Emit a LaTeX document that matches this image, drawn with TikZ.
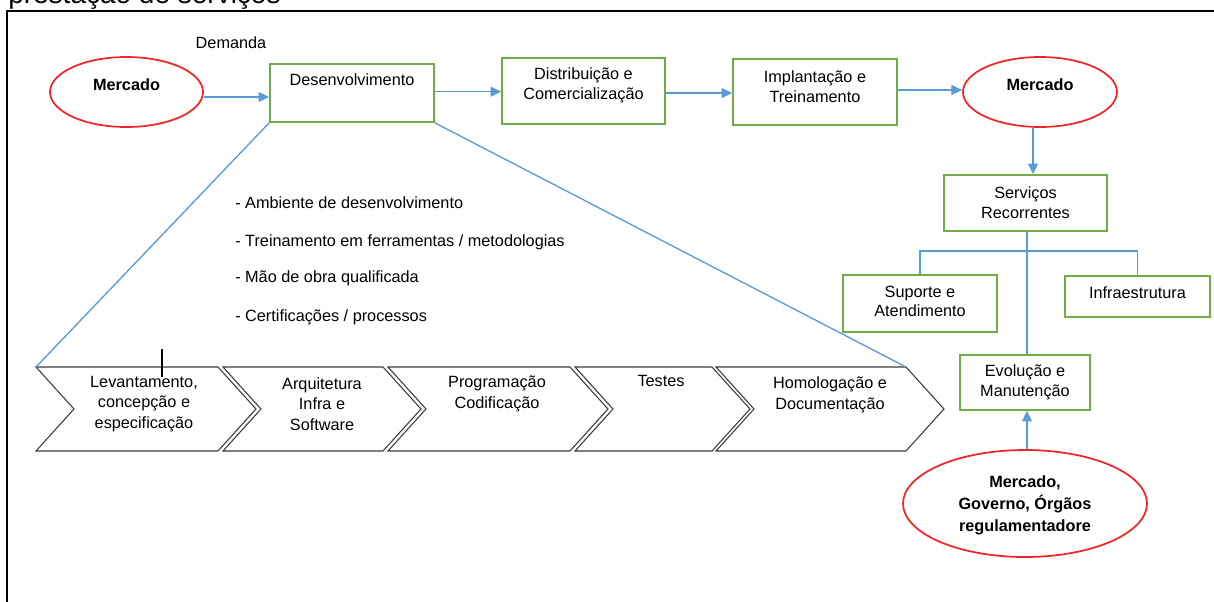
\documentclass[tikz,border=0pt]{standalone}
\usepackage{fontspec}
\setmainfont{Liberation Sans}
\usetikzlibrary{arrows.meta,shapes.geometric,calc}
\definecolor{gboxc}{RGB}{112,173,71}
\definecolor{blinec}{RGB}{91,155,213}
\definecolor{rellc}{RGB}{245,35,35}
\definecolor{chevc}{RGB}{60,60,60}
\newcommand\chevshape[3]{%
  \coordinate (#1tl) at (#2,367);
  \coordinate (#1tr) at (#3,367);
  \draw[chevline] (#1tl) -- (#1tr) -- (#3+38,409) -- (#3,451) -- (#2,451) -- (#2+38,409) -- cycle;
}
\begin{document}
\begin{tikzpicture}[x=0.75pt,y=-0.75pt,
  font=\fontsize{12.2}{14.8}\selectfont,
  sz/.style 2 args={minimum width=#1*0.75pt, minimum height=#2*0.75pt},
  gbox/.style={draw=gboxc, line width=1.2pt, rectangle, inner sep=0pt, align=center},
  rell/.style={draw=rellc, line width=1.3pt, ellipse, inner sep=0pt},
  bl/.style={draw=blinec, line width=1pt},
  arr/.style={bl, -{Triangle[length=8pt,width=7.5pt]}},
  chevline/.style={draw=chevc, line width=0.8pt},
  txt/.style={align=center, inner sep=0pt, font=\fontsize{12.2}{15.6}\selectfont},
  bul/.style={anchor=west, inner sep=0pt},
  lab/.style={align=center, inner sep=0pt},
  every label/.style={lab}
]
\useasboundingbox (0,0) rectangle (1214,601);

% title (cut off at top)
\node[anchor=base west, inner sep=0pt, font=\fontsize{21}{25}\selectfont] (title) at (8,3) {prestação de serviços};
% frame
\draw[line width=1.5pt] (7,640) -- (7,11) -- (1240,11);

% top row
\node (dem) at (231,43) {Demanda};
\node[rell, sz={153}{70}, label={[yshift=5.25pt, font=\fontsize{12.2}{14.8}\selectfont\bfseries]center:Mercado}] (m1) at (126.5,92) {};
\node[gbox, sz={164}{58}, label={[yshift=9.75pt]center:Desenvolvimento}] (des) at (352,93) {};
\node[gbox, sz={163}{66}, label={[yshift=4.1pt]center:{Distribuição e\\Comercialização}}] (dist) at (583.5,91) {};
\node[gbox, sz={164}{66}, label={[yshift=4.1pt]center:{Implantação e\\Treinamento}}] (impl) at (815,92) {};
\node[rell, sz={154}{70}, label={[yshift=5.25pt, font=\fontsize{12.2}{14.8}\selectfont\bfseries]center:Mercado}] (m2) at (1040,92) {};

% right column
\node[gbox, sz={163}{56}, label={[yshift=0.4pt]center:{Serviços\\Recorrentes}}] (serv) at (1025.5,203) {};
\node[gbox, sz={154}{57}, label={[yshift=1.5pt]center:{Suporte e\\Atendimento}}] (sup) at (920,303.5) {};
\node[gbox, sz={145}{41}, label={[yshift=2.6pt]center:Infraestrutura}] (infra) at (1137.5,296.5) {};
\node[gbox, sz={130}{55}, label={[yshift=0pt]center:{Evolução e\\Manutenção}}] (evol) at (1025,382.5) {};
\node[rell, sz={244}{107}, label={[yshift=-1pt, font=\fontsize{12.2}{16.5}\selectfont\bfseries]center:{Mercado,\\Governo, Órgãos\\regulamentadore}}] (m3) at (1025,503.5) {};

% arrows top row
\draw[arr] ([yshift=-3.75pt]m1.east) -- ([yshift=-3.75pt]m1.east -| des.west);
\draw[arr] ([yshift=1pt]des.east) -- ([yshift=1pt]des.east -| dist.west);
\draw[arr] ([yshift=-1.5pt]dist.east) -- ([yshift=-1.5pt]dist.east -| impl.west);
\draw[arr] ([yshift=1.5pt]impl.east) -- ([yshift=1.5pt]impl.east -| m2.west);
\draw[arr] ([xshift=-5.25pt]m2.south) -- ([xshift=-5.25pt]m2.south |- serv.north);

% tree
\coordinate (junc) at (1027,251);
\draw[bl] ([xshift=1pt]serv.south) -- ([xshift=1pt]serv.south |- evol.north);
\draw[bl] (sup.north) |- (junc) -| (infra.north);
\draw[arr] ([xshift=1.5pt]m3.north) -- ([xshift=1.5pt]m3.north |- evol.south);

% chevrons
\chevshape{c1}{36}{218}
\chevshape{c2}{223}{383}
\chevshape{c3}{388}{570}
\chevshape{c4}{575}{712}
\chevshape{c5}{716}{906}
\node[txt] (t1) at (144,404) {Levantamento,\\concepção e\\especificação};
\node[txt] (t2) at (322,404) {Arquitetura\\Infra e\\Software};
\node[txt] (t3) at (497,394) {Programação\\Codificação};
\node[txt] (t4) at (661,381) {Testes};
\node[txt] (t5) at (830,395) {Homologação e\\Documentação};

% tick
\coordinate (tk1) at (162,349);
\coordinate (tk2) at (162,377);
\draw[black, line width=0.8pt] (tk1) -- (tk2);

% funnel lines
\draw[bl] (des.south west) -- (c1tl);
\draw[bl] (des.south east) -- (c5tr);

% bullets
\node[bul] (b1) at (235,203) {- Ambiente de desenvolvimento};
\node[bul] (b2) at (235,242) {- Treinamento em ferramentas / metodologias};
\node[bul] (b3) at (235,278) {- Mão de obra qualificada};
\node[bul] (b4) at (235,317) {- Certificações / processos};
\end{tikzpicture}
\end{document}
